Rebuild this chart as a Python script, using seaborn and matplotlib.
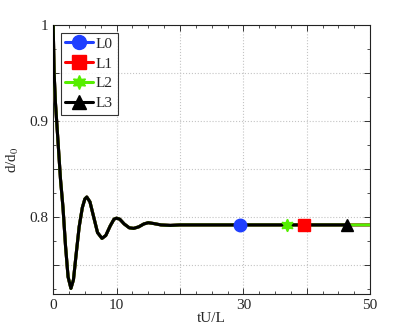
import numpy as np
import pandas as pd
import matplotlib
matplotlib.use("Agg")
import matplotlib.pyplot as plt
from matplotlib.lines import Line2D
from matplotlib.ticker import MultipleLocator
import seaborn as sns

# ===============================
# DATA
# ===============================
t = [0, 0.15, 0.35, 0.55, 0.85, 1.15, 1.55, 1.95, 2.35, 2.8, 3.2, 3.6,
     4.1, 4.6, 5.0, 5.3, 5.8, 6.4, 7.0, 7.7, 8.3, 9.0, 9.6, 10.0, 10.5,
     11.2, 12.0, 12.7, 13.5, 14.3, 15.0, 15.8, 17.0, 18.5, 20.0, 25.0,
     29.5, 36.9, 39.5, 46.4, 50.0]
d = [1.0, 0.95, 0.92, 0.90, 0.87, 0.84, 0.81, 0.77, 0.738, 0.726, 0.735,
     0.76, 0.79, 0.81, 0.819, 0.821, 0.816, 0.80, 0.784, 0.778, 0.781,
     0.791, 0.798, 0.799, 0.798, 0.793, 0.789, 0.7884, 0.790, 0.793,
     0.7943, 0.7935, 0.792, 0.7915, 0.792, 0.792, 0.792, 0.792, 0.792,
     0.792, 0.792]

series = ["L0", "L1", "L2", "L3"]
colors = ["#1f3fff", "#ff0000", "#55ee00", "#000000"]
markers = ["o", "s", (6, 1, 0), "^"]
t_end = [50.0, 50.0, 50.0, 46.4]
t_mark = [29.5, 39.5, 36.9, 46.4]
d_mark = [0.792, 0.792, 0.792, 0.792]

curve = pd.DataFrame({"t": t, "d": d})

# ===============================
# PLOT
# ===============================
sns.set_style("ticks")
plt.rcParams["font.family"] = ["Liberation Serif", "DejaVu Serif"]
plt.rcParams["mathtext.fontset"] = "stix"

fig = plt.figure(figsize=(4.09, 3.32), dpi=100)
ax = fig.add_axes([0.13, 0.114, 0.775, 0.811])

for name, col, te in zip(series, colors, t_end):
    part = curve[curve["t"] <= te]
    sns.lineplot(data=part, x="t", y="d", color=col, linewidth=2.2,
                 ax=ax, zorder=3, legend=False)

for col, mk, tm, dm in zip(colors, markers, t_mark, d_mark):
    ax.plot([tm], [dm], marker=mk, color=col, markersize=9,
            linestyle="none", zorder=5)

ax.set_xlim(0, 50)
ax.set_ylim(0.72, 1.0)
ax.set_xticks([0, 10, 20, 30, 40, 50])
ax.set_xticklabels(["0", "10", "", "30", "", "50"])
ax.set_yticks([0.75, 0.8, 0.85, 0.9, 0.95, 1.0])
ax.set_yticklabels(["", "0.8", "", "0.9", "", "1"])
ax.xaxis.set_minor_locator(MultipleLocator(2.5))
ax.yaxis.set_minor_locator(MultipleLocator(0.025))
ax.tick_params(which="both", direction="in", top=True, right=True,
               labelsize=11, color="#333333")
ax.tick_params(which="major", length=4, width=0.7)
ax.tick_params(which="minor", length=2, width=0.6)
ax.grid(True, which="major", linestyle=":", color="#c4c4c4", linewidth=0.8)
for sp in ax.spines.values():
    sp.set_linewidth(0.8)
    sp.set_color("#222222")

ax.set_xlabel("tU/L", fontsize=11, labelpad=0)
ax.set_ylabel("d/d$_0$", fontsize=11, labelpad=6)

handles = [Line2D([], [], color=c, marker=m, markersize=10, linewidth=2.2)
           for c, m in zip(colors, markers)]
leg = ax.legend(handles, series, loc="upper left", fontsize=11,
                frameon=True, fancybox=False, edgecolor="black",
                handlelength=1.8, handletextpad=0.2, borderpad=0.3,
                labelspacing=0.4, borderaxespad=0.5)
leg.get_frame().set_linewidth(0.8)
leg.set_zorder(10)

fig.savefig("out.png", dpi=100)
